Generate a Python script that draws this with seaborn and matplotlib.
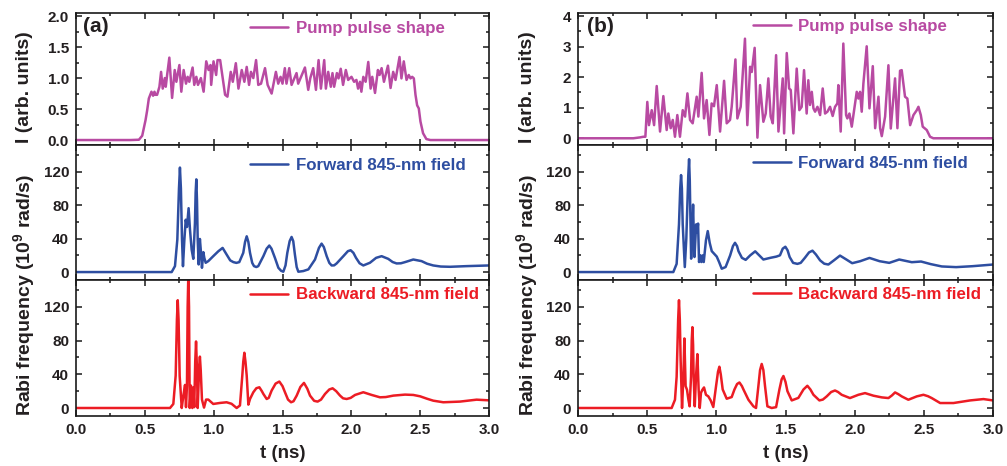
import matplotlib
matplotlib.use("Agg")
import matplotlib.pyplot as plt
from matplotlib.ticker import MultipleLocator, FormatStrFormatter
import pandas as pd
import seaborn as sns

# ---------------- data: (a) ----------------
pump_a_t = [0.0, 0.396, 0.457, 0.481, 0.505, 0.517, 0.529, 0.541, 0.548, 0.560, 0.570, 0.577,
            0.589, 0.606, 0.618, 0.630, 0.645, 0.652, 0.662, 0.678, 0.698, 0.717, 0.729, 0.751,
            0.765, 0.782, 0.799, 0.811, 0.823, 0.847, 0.859, 0.874, 0.886, 0.907, 0.927, 0.946,
            0.963, 0.977, 0.982, 0.999, 1.018, 1.028, 1.047, 1.083, 1.100, 1.124, 1.139, 1.161,
            1.180, 1.204, 1.223, 1.240, 1.257, 1.271, 1.288, 1.308, 1.324, 1.344, 1.373, 1.392,
            1.421, 1.452, 1.469, 1.486, 1.500, 1.517, 1.529, 1.549, 1.566, 1.602, 1.614, 1.663,
            1.687, 1.702, 1.723, 1.743, 1.762, 1.779, 1.803, 1.815, 1.832, 1.851, 1.863, 1.875,
            1.895, 1.907, 1.923, 1.940, 1.960, 1.977, 2.001, 2.020, 2.037, 2.049, 2.063, 2.073,
            2.087, 2.104, 2.123, 2.140, 2.152, 2.172, 2.193, 2.205, 2.220, 2.237, 2.266, 2.285,
            2.304, 2.321, 2.350, 2.364, 2.381, 2.401, 2.417, 2.430, 2.442, 2.454, 2.466, 2.478,
            2.490, 2.502, 2.521, 2.545, 2.574, 3.0]
pump_a_i = [0, 0, 0.005, 0.07, 0.32, 0.48, 0.67, 0.74, 0.78, 0.715, 0.78, 0.73,
            0.73, 0.86, 1.10, 0.83, 1.00, 0.86, 1.05, 1.33, 0.68, 1.13, 0.94, 1.21,
            0.78, 1.13, 0.91, 1.02, 0.94, 1.17, 0.89, 1.02, 0.89, 1.00, 0.78, 1.27,
            1.13, 1.21, 0.89, 1.27, 1.05, 1.29, 1.29, 0.73, 0.70, 1.10, 0.94, 1.24,
            0.83, 1.13, 0.94, 1.18, 0.89, 1.10, 1.00, 1.29, 0.89, 0.91, 1.16, 0.89,
            0.75, 1.10, 0.91, 1.02, 0.91, 1.16, 0.91, 1.16, 0.89, 1.08, 0.91, 1.17,
            0.81, 1.00, 1.16, 0.81, 1.29, 0.83, 1.29, 0.83, 1.10, 0.86, 1.08, 0.86,
            1.08, 0.995, 1.15, 0.89, 1.13, 0.97, 1.02, 0.94, 0.97, 0.83, 0.94, 0.78,
            1.02, 0.94, 1.26, 0.83, 1.02, 0.76, 1.13, 1.05, 1.16, 0.94, 1.20, 0.84,
            1.10, 0.97, 1.34, 0.995, 1.27, 0.97, 1.05, 0.995, 1.02, 0.995, 0.73, 0.56,
            0.51, 0.30, 0.11, 0.016, 0, 0]

fwd_a_t = [0.0, 0.695, 0.719, 0.736, 0.748, 0.755, 0.762, 0.770, 0.777, 0.787, 0.797, 0.806,
           0.818, 0.828, 0.840, 0.852, 0.864, 0.869, 0.874, 0.879, 0.884, 0.891, 0.900, 0.908,
           0.915, 0.925, 0.932, 0.942, 0.961, 0.997, 1.034, 1.065, 1.094, 1.120, 1.143, 1.165,
           1.186, 1.215, 1.228, 1.240, 1.252, 1.264, 1.280, 1.293, 1.310, 1.324, 1.361, 1.385,
           1.404, 1.420, 1.445, 1.470, 1.490, 1.506, 1.522, 1.535, 1.552, 1.566, 1.578, 1.590,
           1.603, 1.615, 1.651, 1.688, 1.736, 1.765, 1.784, 1.800, 1.821, 1.840, 1.857, 1.875,
           1.893, 1.942, 1.975, 1.995, 2.015, 2.034, 2.060, 2.087, 2.135, 2.180, 2.220, 2.268,
           2.300, 2.329, 2.360, 2.390, 2.450, 2.510, 2.550, 2.595, 2.650, 2.717, 2.838, 3.0]
fwd_a_v = [0, 0, 7.1, 38.8, 100, 125, 100, 38.8, 7, 38, 62.6, 53.9,
           76.4, 50.7, 26.9, 15.8, 58.6, 95, 110.9, 85, 38.8, 9.1, 39.6, 23,
           5.1, 23.8, 17, 11.1, 13.1, 19, 24.9, 28.9, 21, 14, 11.9, 11,
           11.9, 23, 36, 42.8, 36, 23, 11, 7.1, 6, 7.1, 19, 28,
           31.7, 28, 17, 5.1, 1.5, 0.4, 8, 23, 37, 42, 37, 21,
           6, 0.4, 1.2, 3.2, 15, 29, 34, 30, 19, 11, 7.9, 8,
           10.3, 19, 25, 26.1, 23, 17, 10.5, 7.9, 11.1, 17, 19, 15.8,
           12, 10.3, 10.5, 11.9, 15, 13.1, 10, 7.9, 6.6, 6.3, 7.1, 7.9]

bwd_a_t = [0.0, 0.683, 0.707, 0.724, 0.733, 0.739, 0.745, 0.753, 0.768, 0.780, 0.792, 0.799,
           0.806, 0.811, 0.816, 0.821, 0.826, 0.835, 0.845, 0.852, 0.859, 0.866, 0.872, 0.878,
           0.884, 0.895, 0.900, 0.906, 0.915, 0.930, 0.945, 0.961, 0.997, 1.046, 1.094, 1.130,
           1.167, 1.191, 1.208, 1.215, 1.223, 1.231, 1.240, 1.252, 1.264, 1.288, 1.310, 1.332,
           1.350, 1.361, 1.385, 1.400, 1.421, 1.450, 1.477, 1.500, 1.518, 1.540, 1.562, 1.580,
           1.603, 1.630, 1.656, 1.680, 1.700, 1.730, 1.755, 1.780, 1.809, 1.840, 1.864, 1.890,
           1.918, 1.940, 1.966, 1.995, 2.027, 2.087, 2.148, 2.208, 2.250, 2.305, 2.390, 2.450,
           2.499, 2.550, 2.595, 2.668, 2.789, 2.910, 3.0]
bwd_a_v = [0, 0, 4.8, 38.5, 105, 128, 105, 38, 0, 14.7, 27.4, 1,
           26.6, 120, 158, 120, 0, 26.6, 0, 24.6, 1, 55, 79, 50,
           0, 50, 61, 45, 10, 0.5, 10, 10, 4.8, 6, 6.8, 5,
           0, 3, 38.5, 55, 65.6, 55, 38.5, 4, 10.7, 18.7, 23.5, 24.6,
           20, 16.7, 10.7, 12, 20.7, 29, 31.4, 26, 18.7, 10, 6.8, 8,
           14.7, 25, 29.8, 23, 14.7, 8.5, 7.6, 10, 16.7, 22, 23.4, 20,
           14.7, 11.5, 10.7, 12, 15.5, 18.7, 15.5, 12.7, 13, 14.7, 15.9, 15.5,
           13.9, 11, 8.7, 6.8, 7.6, 9.9, 9.1]

# ---------------- data: (b) ----------------
pump_b_t = [0.0, 0.40, 0.45, 0.472, 0.487, 0.501, 0.513, 0.533, 0.550, 0.569, 0.593, 0.617,
            0.641, 0.653, 0.670, 0.685, 0.701, 0.718, 0.737, 0.757, 0.774, 0.791, 0.810, 0.829,
            0.858, 0.870, 0.894, 0.911, 0.930, 0.950, 0.966, 0.983, 1.003, 1.027, 1.056, 1.075,
            1.099, 1.111, 1.138, 1.152, 1.176, 1.207, 1.224, 1.244, 1.256, 1.277, 1.297, 1.316,
            1.340, 1.357, 1.376, 1.393, 1.408, 1.432, 1.449, 1.480, 1.490, 1.509, 1.526, 1.538,
            1.557, 1.581, 1.600, 1.617, 1.634, 1.653, 1.665, 1.677, 1.690, 1.702, 1.714, 1.731,
            1.750, 1.769, 1.786, 1.803, 1.822, 1.841, 1.858, 1.875, 1.882, 1.899, 1.918, 1.938,
            1.947, 1.962, 1.979, 1.996, 2.015, 2.027, 2.039, 2.051, 2.063, 2.087, 2.107, 2.131,
            2.148, 2.172, 2.184, 2.196, 2.220, 2.244, 2.261, 2.292, 2.309, 2.328, 2.340, 2.364,
            2.381, 2.401, 2.425, 2.449, 2.461, 2.478, 2.492, 2.521, 2.545, 2.569, 3.0]
pump_b_i = [0, 0, 0.03, 0.05, 0.05, 1.19, 0.43, 0.92, 0.43, 1.71, 0.22, 1.38,
            0.27, 0.81, 0.33, 0.60, 0.05, 0.76, 0.05, 0.92, 0.71, 1.47, 0.60, 0.49,
            1.36, 0.71, 2.14, 0.65, 1.25, 0.11, 1.14, 1.05, 1.74, 0.22, 1.88, 0.49,
            0.60, 1.03, 2.58, 0.65, 1.03, 3.26, 0.43, 2.34, 2.17, 2.96, 0.02, 1.74,
            0.54, 0.81, 1.96, 0.71, 0.49, 2.72, 0.22, 1.96, 0.16, 2.79, 1.63, 1.58,
            0.16, 2.28, 0.92, 1.03, 2.23, 0.81, 1.90, 1.09, 1.52, 0.98, 0.87, 1.03,
            0.76, 1.63, 0.81, 0.87, 1.03, 0.73, 1.03, 1.14, 1.74, 0.22, 3.10, 0.76,
            0.65, 0.81, 0.38, 0.92, 1.52, 1.30, 1.52, 0.87, 1.79, 3.01, 0.98, 2.36,
            0.33, 1.36, 0.33, 0.07, 0.71, 2.39, 0.32, 1.96, 0.33, 2.21, 2.23, 1.36,
            1.30, 0.43, 0.76, 0.92, 1.03, 0.76, 0.38, 0.27, 0.05, 0, 0]

fwd_b_t = [0.0, 0.689, 0.713, 0.730, 0.739, 0.745, 0.751, 0.757, 0.772, 0.783, 0.797, 0.803,
           0.808, 0.813, 0.818, 0.826, 0.832, 0.837, 0.842, 0.854, 0.861, 0.868, 0.875, 0.885,
           0.892, 0.902, 0.909, 0.925, 0.938, 0.952, 0.967, 1.003, 1.020, 1.039, 1.067, 1.100,
           1.120, 1.135, 1.150, 1.160, 1.185, 1.212, 1.245, 1.281, 1.310, 1.340, 1.390, 1.434,
           1.460, 1.480, 1.499, 1.515, 1.530, 1.555, 1.586, 1.610, 1.640, 1.670, 1.695, 1.720,
           1.750, 1.780, 1.810, 1.850, 1.894, 1.940, 1.982, 2.040, 2.107, 2.180, 2.250, 2.322,
           2.413, 2.480, 2.550, 2.630, 2.733, 2.850, 3.0]
fwd_b_v = [0, 0, 9.8, 57, 100, 116, 100, 57, 6, 40, 115, 135,
           110, 60, 16, 50, 80.7, 45, 18, 57, 47, 58, 12, 20,
           12, 20, 12, 38, 49, 35, 25, 18.5, 12, 4, 6, 20,
           31, 35, 31, 25, 17, 14.6, 20, 24.8, 20, 15, 17, 18.5,
           20, 28, 30.3, 26, 18, 11, 9.8, 11, 17, 23.5, 25.6, 21,
           14, 10, 9, 14, 19.7, 15, 10.6, 13, 16.9, 13, 11, 15,
           11.8, 12.6, 9.5, 6.7, 5.9, 7, 9]

bwd_b_t = [0.0, 0.677, 0.701, 0.713, 0.724, 0.730, 0.736, 0.742, 0.752, 0.762, 0.769, 0.778,
           0.788, 0.798, 0.807, 0.817, 0.822, 0.827, 0.832, 0.836, 0.844, 0.853, 0.863, 0.872,
           0.880, 0.889, 0.899, 0.911, 0.925, 0.942, 0.959, 0.978, 0.998, 1.012, 1.022, 1.032,
           1.046, 1.075, 1.111, 1.131, 1.150, 1.167, 1.185, 1.196, 1.232, 1.268, 1.287, 1.304,
           1.316, 1.328, 1.340, 1.352, 1.369, 1.400, 1.432, 1.456, 1.472, 1.485, 1.500, 1.514,
           1.545, 1.593, 1.630, 1.658, 1.680, 1.702, 1.745, 1.770, 1.798, 1.830, 1.858, 1.880,
           1.906, 1.966, 2.027, 2.075, 2.136, 2.196, 2.244, 2.270, 2.292, 2.315, 2.340, 2.388,
           2.449, 2.497, 2.530, 2.557, 2.618, 2.714, 2.835, 2.931, 3.0]
bwd_b_v = [0, 0, 9.8, 37, 105, 128, 105, 57, 0, 37, 82.6, 26,
           21.6, 10, 2, 37, 80, 96, 75, 37, 2, 37, 64, 22,
           0, 18, 21.6, 24.4, 15.7, 13.8, 9, 1.2, 26, 43, 49, 40,
           22, 11, 13, 22, 28.5, 30.3, 26, 22, 9.8, 2, 0, 26,
           45, 52.3, 45, 26, 2, 0, 1, 22, 34, 38, 31, 20,
           9, 12, 22, 26.4, 22, 15.7, 9, 10, 13.8, 19, 20.8, 19,
           15.7, 11.8, 15.7, 17.7, 14.6, 12.6, 11.8, 15, 18.5, 16.5, 13.8, 9.8,
           13.8, 15.7, 14, 11.8, 5.9, 5.9, 9, 10.6, 9]

labels = ["Pump pulse shape", "Forward 845-nm field", "Backward 845-nm field"]
panel_tags = ["(a)", "(b)"]

# ---------------- styling ----------------
sns.set_theme(style="ticks")
plt.rcParams.update({
    "font.family": ["Liberation Sans", "DejaVu Sans"],
    "font.weight": "bold",
    "axes.labelweight": "bold",
    "mathtext.fontset": "custom",
    "mathtext.rm": "Liberation Sans:bold",
    "mathtext.bf": "Liberation Sans:bold",
    "mathtext.default": "bf",
    "axes.edgecolor": "#1a1a1a",
    "axes.linewidth": 1.2,
    "xtick.color": "#1a1a1a",
    "ytick.color": "#1a1a1a",
    "xtick.labelcolor": "#231f20",
    "ytick.labelcolor": "#231f20",
})

C_PUMP = "#b84aa2"
C_FWD = "#2e4ea1"
C_BWD = "#ec1c24"
TXT = "#231f20"

fig = plt.figure(figsize=(10.07, 4.66), dpi=100)
W, H = 1007.0, 466.0

col_left = [76, 578]
col_right = [489, 993]
rows = [(13, 145), (145, 280), (280, 416)]

columns = [
    dict(series=[(pump_a_t, pump_a_i), (fwd_a_t, fwd_a_v), (bwd_a_t, bwd_a_v)],
         top_ylim=(-0.08, 2.05), top_major=0.5, top_minor=0.25, top_fmt="%.1f",
         leg_y=[0.88, 0.85, 0.89], tag_x=0.016, ylab_x=24.5),
    dict(series=[(pump_b_t, pump_b_i), (fwd_b_t, fwd_b_v), (bwd_b_t, bwd_b_v)],
         top_ylim=(-0.22, 4.1), top_major=1, top_minor=0.5, top_fmt="%d",
         leg_y=[0.895, 0.86, 0.895], tag_x=0.022, ylab_x=527.5),
]
colors = [C_PUMP, C_FWD, C_BWD]

for ci, col in enumerate(columns):
    x0 = col_left[ci] / W
    w = (col_right[ci] - col_left[ci]) / W
    axes = []
    for ri, (ytop, ybot) in enumerate(rows):
        ax = fig.add_axes([x0, (H - ybot) / H, w, (ybot - ytop) / H])
        axes.append(ax)
        t, v = col["series"][ri]
        df = pd.DataFrame({"t": t, "v": v})
        sns.lineplot(data=df, x="t", y="v", ax=ax, color=colors[ri], linewidth=1.8,
                     estimator=None, sort=False, label=labels[ri])
        ax.set_xlim(0, 3.0)
        ax.xaxis.set_major_locator(MultipleLocator(0.5))
        ax.xaxis.set_minor_locator(MultipleLocator(0.25))
        if ri == 0:
            ax.set_ylim(*col["top_ylim"])
            ax.yaxis.set_major_locator(MultipleLocator(col["top_major"]))
            ax.yaxis.set_minor_locator(MultipleLocator(col["top_minor"]))
            ax.yaxis.set_major_formatter(FormatStrFormatter(col["top_fmt"]))
        else:
            ax.set_ylim(-9.5, 152)
            ax.yaxis.set_major_locator(MultipleLocator(40))
            ax.yaxis.set_minor_locator(MultipleLocator(20))
            ax.yaxis.set_major_formatter(FormatStrFormatter("%d"))
        ax.tick_params(which="both", direction="in", top=True, right=True,
                       labelsize=11, pad=5, width=1.1)
        ax.tick_params(which="major", length=4.5)
        ax.tick_params(which="minor", length=2.5)
        ax.set_xlabel("")
        ax.set_ylabel("")
        if ri < 2:
            ax.tick_params(labelbottom=False)
        else:
            ax.xaxis.set_major_formatter(FormatStrFormatter("%.1f"))
        for lab in ax.get_xticklabels() + ax.get_yticklabels():
            lab.set_fontweight("bold")
        leg = ax.legend(loc="center left", bbox_to_anchor=(0.422, col["leg_y"][ri]),
                        frameon=False, borderpad=0, borderaxespad=0,
                        handlelength=2.25, handletextpad=0.42,
                        prop={"weight": "bold", "size": 12.2}, labelcolor="linecolor")
        for line in leg.get_lines():
            line.set_linewidth(1.8)
    axes[0].text(col["tag_x"], 0.895, panel_tags[ci], transform=axes[0].transAxes,
                 fontsize=15, fontweight="bold", color=TXT, va="center", ha="left")
    axes[2].set_xlabel("t (ns)", fontsize=13.5, fontweight="bold", color=TXT, labelpad=6)
    fig.text(col["ylab_x"] / W, (H - 87) / H, "I (arb. units)", rotation=90,
             ha="center", va="center", fontsize=14, fontweight="bold", color=TXT)
    fig.text(col["ylab_x"] / W, (H - 295) / H, r"Rabi frequency (10$^{9}$ rad/s)",
             rotation=90, ha="center", va="center", fontsize=14, fontweight="bold",
             color=TXT)

fig.savefig("out.png", dpi=100)
